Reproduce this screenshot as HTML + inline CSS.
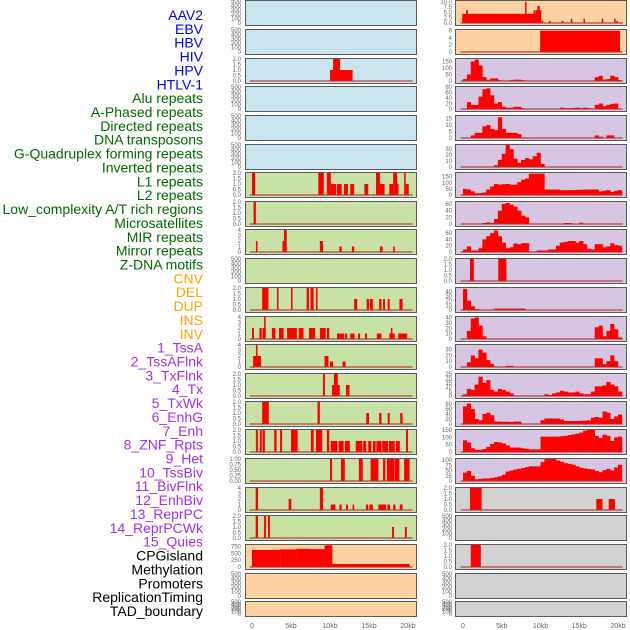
<!DOCTYPE html>
<html><head><meta charset="utf-8"><style>
body{margin:0;background:#fff;}
svg{display:block;font-family:"Liberation Sans",sans-serif;}
</style></head><body>
<svg id="chart" width="630" height="630" viewBox="0 0 630 630" xmlns="http://www.w3.org/2000/svg"></svg>
<script>
// ---------- DATA ----------
const trackLabels = ["AAV2","EBV","HBV","HIV","HPV","HTLV-1","Alu repeats","A-Phased repeats","Directed repeats","DNA transposons","G-Quadruplex forming repeats","Inverted repeats","L1 repeats","L2 repeats","Low_complexity A/T rich regions","Microsatellites","MIR repeats","Mirror repeats","Z-DNA motifs","CNV","DEL","DUP","INS","INV","1_TssA","2_TssAFlnk","3_TxFlnk","4_Tx","5_TxWk","6_EnhG","7_Enh","8_ZNF_Rpts","9_Het","10_TssBiv","11_BivFlnk","12_EnhBiv","13_ReprPC","14_ReprPCWk","15_Quies","CPGisland","Methylation","Promoters","ReplicationTiming","TAD_boundary"];
const labelGroups = [0,0,0,0,0,0,1,1,1,1,1,1,1,1,1,1,1,1,1,2,2,2,2,2,3,3,3,3,3,3,3,3,3,3,3,3,3,3,3,4,4,4,4,4];
const xTickLabels = ["0","5kb","10kb","15kb","20kb"];
const xTickValues = [0,5,10,15,20];

const T500 = ["0","100","200","300","400","500"];
const T2 = ["0.0","0.5","1.0","1.5","2.0"];
const T4 = ["0","1","2","3","4"];

const leftYMax = [500,500,2,500,500,500,2,2,4,500,2,4,4,2,2,2,1,4,2,800,500,500];
const leftTicks = [T500,T500,T2,T500,T500,T500,T2,T2,T4,T500,T2,T4,T4,T2,T2,T2,["0.00","0.25","0.50","0.75","1.00"],T4,T2,["0","250","500","750"],T500,T500];
const leftBg = ["blue","blue","blue","blue","blue","blue","green","green","green","green","green","green","green","green","green","green","green","green","green","peach","peach","peach"];
const leftSegs = [
 [],[],
 [[10.0,12.9,1],[10.4,11.3,2]],
 [],[],[],
 [[0,0.4,2],[8.5,9.2,2],[9.6,10.1,2],[10.1,10.8,1],[10.9,11.5,1],[11.8,12.3,1],[12.6,13.1,1],[14.4,14.9,1],[15.9,16.4,2],[16.4,17.0,1],[17.6,18.1,1],[18.1,18.6,2],[18.6,18.8,1],[19.5,19.7,2],[19.7,20.1,1]],
 [[0.2,0.5,2]],
 [[0.5,0.7,2],[3.9,4.1,2],[4.1,4.45,4],[8.7,9.1,2],[11.2,11.5,1],[12.8,13.1,1],[16.4,16.75,1],[18.1,18.3,1]],
 [],
 [[1.3,2.1,2],[3.2,3.4,2],[5.0,5.2,2],[7.0,7.3,2],[7.5,7.9,2],[8.2,8.4,2],[13.1,13.5,1],[14.7,15.0,1],[15.1,15.5,1],[16.3,16.6,1],[16.8,17.05,1],[17.4,17.65,1],[18.9,19.3,1]],
 [[0,0.25,2],[0.95,1.25,2],[1.35,1.75,2],[1.55,1.75,4],[2.55,3.0,2],[3.45,4.05,2],[4.5,5.75,2],[6.0,6.6,2],[7.3,8.1,2],[8.7,9.45,2],[9.6,9.9,2],[10.9,11.8,1],[11.9,12.2,1],[12.6,13.15,1],[13.6,13.85,1],[14.5,14.75,1],[16.0,16.6,1],[17.6,18.3,1],[17.8,18.0,2],[18.75,19.9,1]],
 [[0.15,1.15,2],[0.5,0.7,4],[9.3,9.8,2],[10.0,10.4,1],[11.6,12.0,1]],
 [[9.1,9.35,2],[10.25,11.25,1],[10.5,11.0,2],[12.05,12.5,1]],
 [[1.3,2.15,2],[8.4,8.7,2],[14.65,15.0,1],[16.3,16.6,1],[17.4,17.65,1],[19.0,19.3,1]],
 [[0.5,0.75,2],[1.0,1.25,2],[1.35,1.65,2],[2.85,3.15,2],[3.6,3.85,2],[5.0,5.85,2],[7.55,7.9,2],[8.2,9.0,2],[9.6,9.9,2],[10.1,10.95,1],[11.1,11.75,1],[11.9,12.55,1],[13.3,14.15,1],[14.25,14.65,1],[14.9,15.3,1],[15.5,15.85,1],[15.95,16.6,1],[16.7,17.45,1],[17.55,18.3,1],[18.45,18.95,1],[19.75,20.0,2]],
 [[10.0,10.26,1],[11.4,11.9,1],[13.7,14.2,1],[15.2,16.2,1],[16.8,17.1,1],[17.3,18.25,1],[18.3,18.9,1],[19.5,20.2,1]],
 [[0.47,0.77,4],[4.7,5.05,2],[8.7,9.1,4],[10.1,10.7,1],[11.2,11.5,1],[12.05,12.3,1],[12.9,13.1,1],[14.6,14.9,1],[15.05,15.5,1],[16.2,17.2,1],[17.35,17.7,1],[18.1,18.4,1],[18.95,19.3,1]],
 [[0.47,0.77,2],[1.55,1.8,2],[2.05,2.3,2],[17.95,18.2,1],[19.6,19.85,1]],
 [[0,3.6,620],[3.6,5.7,640],[5.7,7.5,660],[7.5,9.3,650],[9.3,10.3,790],[10.3,20.2,110]],
 [],[]
];

const rightYMax = [10.3,6.2,170,80,17,37,180,66,70,2,47,41,38,25,88,150,105,2,500,2,500,500];
const rightTicks = [["0.0","2.5","5.0","7.5","10.0"],["0","2","4","6"],["0","50","100","150"],["0","20","40","60","80"],["0","5","10","15"],["0","10","20","30"],["0","50","100","150"],["0","20","40","60"],["0","20","40","60"],T2,["0","10","20","30","40"],["0","10","20","30","40"],["0","10","20","30"],["0","5","10","15","20","25"],["0","20","40","60","80"],["0","50","100","150"],["0","25","50","75","100"],T2,T500,T2,T500,T500];
const rightBg = ["peach","peach","lav","lav","lav","lav","lav","lav","lav","lav","lav","lav","lav","lav","lav","lav","lav","gray","gray","gray","gray","gray"];
const rightSegs = [
 [[-0.1,10.0,4.3],[0.4,0.65,6],[8.0,8.2,10],[9.1,9.35,6],[9.4,10.1,6],[9.6,9.9,8],[10.15,10.35,1],[11.1,11.3,1],[12.75,12.95,1],[13.9,14.1,2],[15.55,15.75,2],[17.9,18.1,2],[19.5,19.7,2],[19.8,19.95,1]],
 [[9.95,20.25,6]],
 [],[],[],[],[],[],[],
 [[0.9,1.4,2],[4.55,5.6,2]],
 [],[],[],[],[],[],[],
 [[0.9,2.4,2],[17.2,18.0,1],[18.8,19.6,1]],
 [],
 [[1.0,2.3,2]],
 [],[]
];
// 0.5kb bins starting at 0kb (41 bins)
const rightBins = [
 null,null,
 [15,50,150,165,120,30,10,20,20,5,0,0,5,10,10,5,0,0,0,0,0,0,0,0,0,0,0,0,0,0,0,0,0,0,30,40,10,15,40,30,5],
 [0,25,15,15,45,72,75,50,20,25,8,5,5,8,8,2,0,0,0,0,0,0,0,0,0,5,3,3,3,5,3,5,3,0,15,20,10,15,18,20,0],
 [0,0,2,4,4,9,10,7,6,16,7,4,4,4,3,0,0,0,0,0,0,0,0,0,0,0,0,0,0,0,0,0,0,0,2,1,0,2,2,0,0],
 [0,0,0,0,0,0,0,0,3,12,22,37,30,14,7,12,15,13,18,24,5,0,0,0,0,0,0,0,0,0,0,0,0,0,0,0,0,0,0,0,0],
 [50,45,30,15,15,20,45,70,90,85,88,90,85,85,105,125,135,175,175,175,175,45,45,45,45,40,40,40,40,42,42,45,45,45,45,30,35,40,25,35,40],
 [0,0,0,0,0,3,5,3,15,40,60,63,58,52,40,25,20,0,0,0,0,0,0,0,0,0,3,3,0,0,4,0,0,0,0,0,0,0,0,0,0],
 [8,18,5,5,12,40,50,60,68,50,30,12,15,27,25,28,28,0,0,5,5,5,8,8,20,30,32,35,35,30,35,25,10,8,25,25,15,18,28,22,20],
 null,
 [45,20,8,2,0,0,0,0,3,3,3,3,3,3,3,3,0,0,0,0,0,0,0,0,0,0,0,0,0,0,0,0,0,0,0,0,0,0,0,0,0],
 [0,15,38,40,25,5,0,0,0,0,0,0,0,0,0,0,0,0,0,0,0,0,0,0,0,0,0,0,0,0,0,0,0,0,22,25,5,15,28,18,3],
 [0,8,20,15,30,25,12,5,0,0,0,2,2,0,0,0,0,0,0,0,0,0,0,0,0,0,0,0,0,0,0,0,0,0,15,15,5,10,20,10,0],
 [2,8,7,13,22,15,18,7,5,8,7,5,3,0,0,0,0,0,0,0,0,2,1,3,4,6,5,4,4,5,3,2,2,5,11,11,12,16,13,11,5],
 [70,82,60,20,15,40,45,35,10,10,9,9,8,10,10,0,0,0,0,0,15,22,22,22,22,18,12,12,12,12,13,13,15,25,28,25,50,45,20,30,38],
 [80,65,25,15,15,20,35,55,68,65,58,45,30,30,30,25,22,18,18,18,105,105,105,105,105,108,110,115,120,125,132,145,150,150,110,95,118,110,75,100,105],
 [40,48,25,8,10,12,12,15,18,22,30,45,50,55,58,62,66,70,70,70,90,105,105,105,98,92,85,82,78,70,63,60,57,55,48,42,52,58,50,65,78],
 null,null,null,null,null
];
const binWidth = 0.5;

// ---------- LAYOUT ----------
const NS = "http://www.w3.org/2000/svg";
const svg = document.getElementById('chart');
const bgColors = {blue:"#c9e4ec",green:"#c8e2a6",peach:"#ffd2a2",lav:"#d6c6e2",gray:"#d2d2d2"};
const groupColors = ["#0000ff","#006a00","#ffa500","#a030f0","#000000"];
const rowTops = [0,29,58,86,115,144,172,201,229,258,287,316,344,373,401,429,458,487,515,544,573,601];
function rowH(i){ return i===21 ? 15 : 25; }
const cols = [
 {x0:245, x1:416, zero:252, pxPerKb:7.8, tickX:241},
 {x0:455, x1:626, zero:463, pxPerKb:7.75, tickX:452}
];
function xScale(c, kb){ return c.zero + kb*c.pxPerKb; }
function yScale(top, h, ymax, v){ const y0=top+1, y1=top+h-2; return y1 - (v/ymax)*(y1-y0); }
function mk(tag, attrs){ const e=document.createElementNS(NS,tag); for(const k in attrs) e.setAttribute(k, attrs[k]); return e; }

// labels
trackLabels.forEach((t,i)=>{
  const el = mk('text',{x:203,y:15+i*13.86+5,'text-anchor':'end','font-size':'14',fill:groupColors[labelGroups[i]]});
  
  
  el.textContent=t; svg.appendChild(el);
});

function drawPanel(ci, r, bg, ymax, ticks, segs, bins){
  const c = cols[ci], top=rowTops[r], h=rowH(r);
  const g = mk('g',{});
  
  
  svg.appendChild(g);
  const rect = mk('rect',{x:c.x0+0.5,y:top+0.5,width:c.x1-c.x0,height:h,fill:bgColors[bg],stroke:'#5a5a5a','stroke-width':1});
  
  
  g.appendChild(rect);
  ticks.forEach(lbl=>{
    const v=parseFloat(lbl);
    const t = mk('text',{x:c.tickX,y:yScale(top,h,ymax,v)+2,'text-anchor':'end','font-size':'6',fill:'#666'});
    
    
    t.textContent=lbl; g.appendChild(t);
  });
  const hasData = segs.length>0 || bins;
  if(bins){
    bins.forEach((v,k)=>{
      if(v<=0) return;
      const xa=xScale(c,k*binWidth), xb=xScale(c,(k+1)*binWidth), y=yScale(top,h,ymax,Math.min(v,ymax));
      const b = mk('rect',{x:xa,y:y,width:xb-xa+0.3,height:yScale(top,h,ymax,0)-y,fill:'#ff0000'});
      
      
      g.appendChild(b);
    });
  }
  segs.forEach(s=>{
    const xa=xScale(c,s[0]), xb=xScale(c,s[1]), y=yScale(top,h,ymax,Math.min(s[2],ymax));
    const b = mk('rect',{x:xa,y:y,width:Math.max(1.5,xb-xa),height:yScale(top,h,ymax,0)-y,fill:'#ff0000'});
    
    
    g.appendChild(b);
  });
  if(hasData){
    const yb=yScale(top,h,ymax,0);
    const ln = mk('line',{x1:xScale(c,-0.3),x2:xScale(c,20.6),y1:yb,y2:yb,stroke:'#b03030','stroke-opacity':0.55,'stroke-width':2});
    
    
    g.appendChild(ln);
  }
}
for(let r=0;r<22;r++){
  drawPanel(0,r,leftBg[r],leftYMax[r],leftTicks[r],leftSegs[r],null);
  drawPanel(1,r,rightBg[r],rightYMax[r],rightTicks[r],rightSegs[r],rightBins[r]);
}
// x axes
cols.forEach((c,ci)=>{
  xTickValues.forEach((v,i)=>{
    const t = mk('text',{x:xScale(c,v),y:628,'text-anchor':'middle','font-size':'7',fill:'#666'});
    
    
    t.textContent=xTickLabels[i]; svg.appendChild(t);
  });
});
</script>
</body></html>
